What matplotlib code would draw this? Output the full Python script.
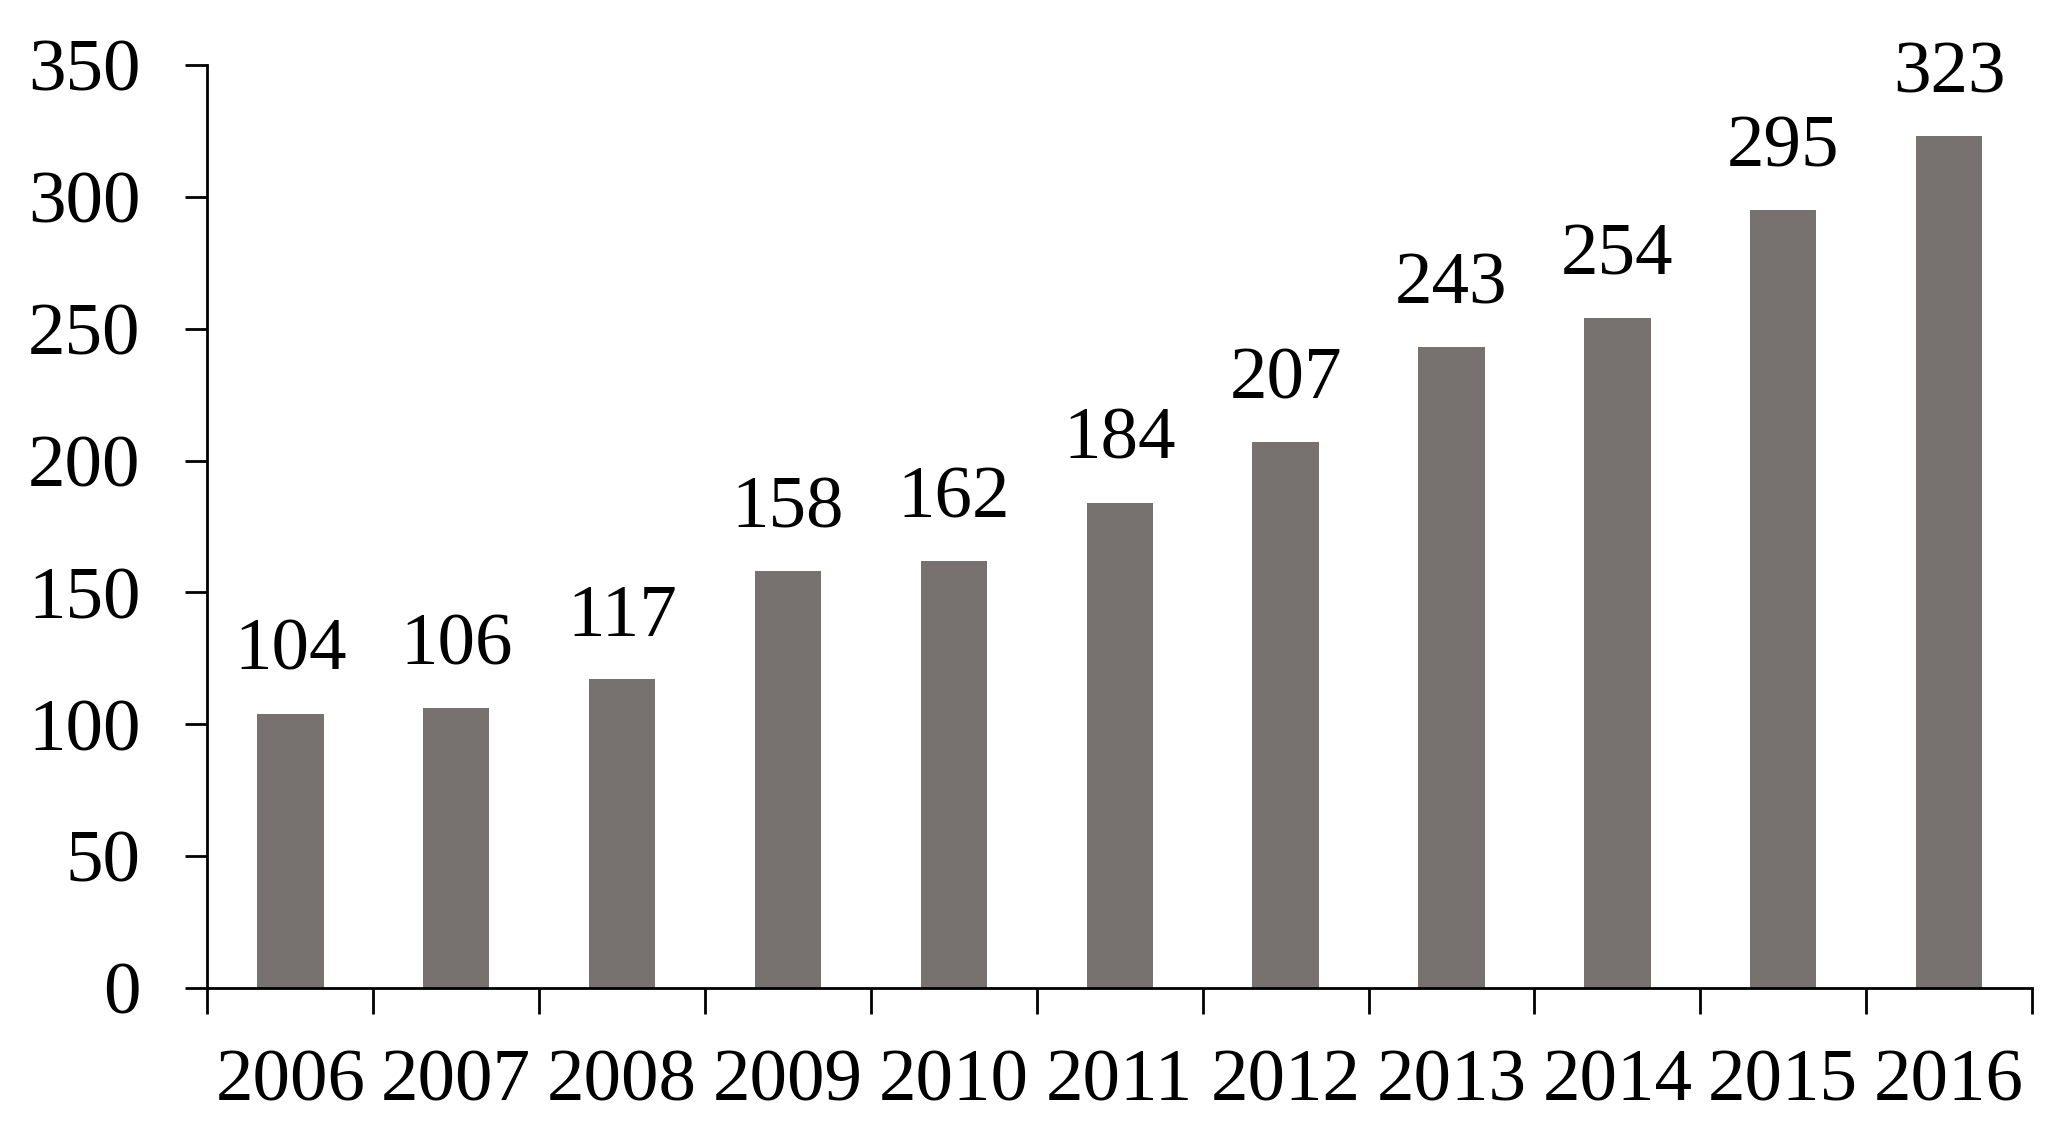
import numpy as np
import matplotlib; matplotlib.use("Agg")
import matplotlib.pyplot as plt
from matplotlib.ticker import FixedLocator

years=["2006","2007","2008","2009","2010","2011","2012","2013","2014","2015","2016"]
values=[104,106,117,158,162,184,207,243,254,295,323]
yticks=[0,50,100,150,200,250,300,350]

plt.rcParams["font.family"]=["Liberation Serif","DejaVu Serif"]
FS=54

fig=plt.figure(figsize=(20.72,11.38),dpi=100)
ax=fig.add_axes([0.1001,0.1318,0.8806,0.8111])
x=np.arange(len(years))
bars=ax.bar(x,values,width=0.40,color="#77716f",zorder=2)
for xi,v in zip(x,values):
    ax.annotate(str(v),(xi,v),xytext=(0,20),textcoords="offset points",
                ha="center",va="bottom",fontsize=FS)

ax.set_xlim(-0.5,len(years)-0.5); ax.set_ylim(0,350)
ax.set_yticks(yticks); ax.set_yticklabels([str(t) for t in yticks],fontsize=FS)
ax.set_xticks(x); ax.set_xticklabels(years,fontsize=FS)
ax.xaxis.set_minor_locator(FixedLocator(np.arange(-0.5,len(years),1.0)))
ax.tick_params(axis="x",which="major",length=0,pad=44)
ax.tick_params(axis="x",which="minor",length=19,width=2,direction="out")
ax.tick_params(axis="y",length=16,width=2,direction="out",pad=32)
for s in ["top","right"]: ax.spines[s].set_visible(False)
for s in ["left","bottom"]: ax.spines[s].set_linewidth(2)
fig.savefig("out.png",dpi=100)
